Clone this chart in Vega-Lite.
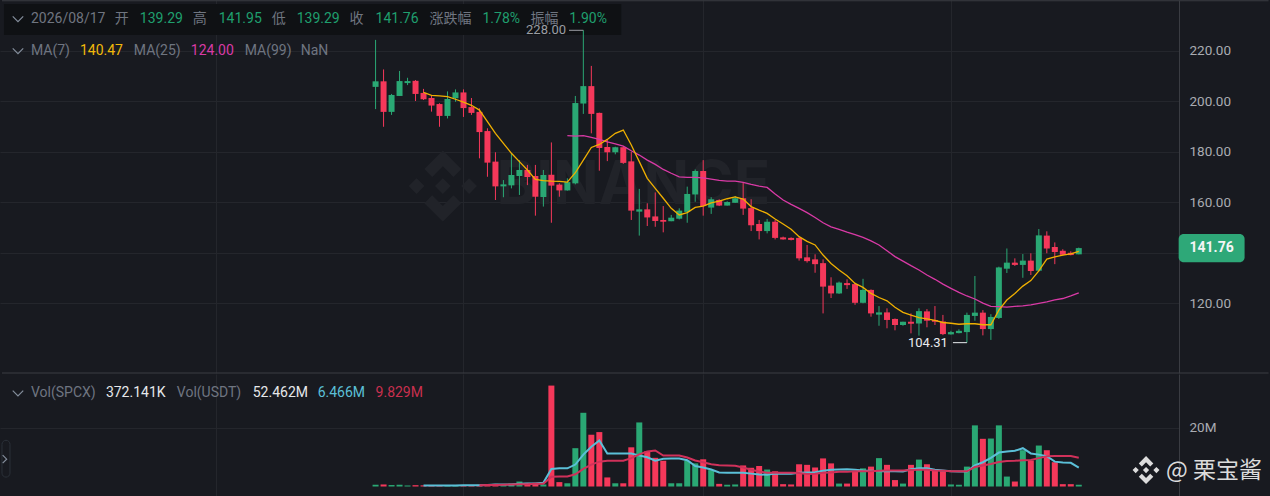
{
  "$schema": "https://vega.github.io/schema/vega-lite/v6.json",
  "background": "#181a20",
  "padding": 0,
  "spacing": 0,
  "config": {"view": {"stroke": null}, "text": {"font": "Roboto, Noto Sans CJK SC"}},
  "datasets": {
    "candles": [
      {"date":"2026-05-21","open":205.6,"high":224.2,"low":196.8,"close":207.8,"dir":"up","vol":0.6,"ma7":null,"ma25":null,"vma7":null,"vma25":null},
      {"date":"2026-05-22","open":207.8,"high":212.5,"low":189.8,"close":195.7,"dir":"down","vol":0.7,"ma7":null,"ma25":null,"vma7":null,"vma25":null},
      {"date":"2026-05-23","open":195.7,"high":202.8,"low":194.5,"close":202.4,"dir":"up","vol":0.5,"ma7":null,"ma25":null,"vma7":null,"vma25":null},
      {"date":"2026-05-24","open":202,"high":211.9,"low":202,"close":207.9,"dir":"up","vol":0.6,"ma7":null,"ma25":null,"vma7":null,"vma25":null},
      {"date":"2026-05-25","open":207.1,"high":209.2,"low":206.3,"close":207.9,"dir":"up","vol":0.35,"ma7":null,"ma25":null,"vma7":null,"vma25":null},
      {"date":"2026-05-26","open":208,"high":208.3,"low":200,"close":202.8,"dir":"down","vol":0.45,"ma7":null,"ma25":null,"vma7":null,"vma25":null},
      {"date":"2026-05-27","open":203.2,"high":204.8,"low":200.4,"close":200.7,"dir":"down","vol":0.4,"ma7":203.4,"ma25":null,"vma7":0.35,"vma25":null},
      {"date":"2026-05-28","open":201.2,"high":202,"low":195.8,"close":198.2,"dir":"down","vol":0.3,"ma7":202.2,"ma25":null,"vma7":0.35,"vma25":null},
      {"date":"2026-05-29","open":198.8,"high":199.1,"low":189.8,"close":194.1,"dir":"down","vol":0.3,"ma7":202,"ma25":null,"vma7":0.35,"vma25":null},
      {"date":"2026-05-30","open":194.1,"high":203.8,"low":193.1,"close":200.8,"dir":"up","vol":0.3,"ma7":201.7,"ma25":null,"vma7":0.35,"vma25":null},
      {"date":"2026-05-31","open":201.1,"high":204.6,"low":199.7,"close":203.4,"dir":"up","vol":0.3,"ma7":200.7,"ma25":null,"vma7":0.35,"vma25":null},
      {"date":"2026-06-01","open":203.4,"high":204.6,"low":193.7,"close":197.2,"dir":"down","vol":0.3,"ma7":199.6,"ma25":null,"vma7":0.4,"vma25":null},
      {"date":"2026-06-02","open":197.6,"high":201.2,"low":194.5,"close":195.3,"dir":"down","vol":0.3,"ma7":198.3,"ma25":null,"vma7":0.4,"vma25":null},
      {"date":"2026-06-03","open":195.7,"high":197.1,"low":177.3,"close":187.7,"dir":"down","vol":0.6,"ma7":196.4,"ma25":null,"vma7":0.45,"vma25":0.45},
      {"date":"2026-06-04","open":188.1,"high":189.2,"low":170,"close":175.6,"dir":"down","vol":0.8,"ma7":191.8,"ma25":null,"vma7":0.55,"vma25":0.5},
      {"date":"2026-06-05","open":176,"high":179.7,"low":160.8,"close":166.2,"dir":"down","vol":0.9,"ma7":187.2,"ma25":null,"vma7":0.65,"vma25":0.55},
      {"date":"2026-06-06","open":166.2,"high":168.7,"low":161.9,"close":167,"dir":"up","vol":0.5,"ma7":183.2,"ma25":null,"vma7":0.65,"vma25":0.6},
      {"date":"2026-06-07","open":166.6,"high":179.3,"low":165.4,"close":170.7,"dir":"up","vol":1,"ma7":179.3,"ma25":null,"vma7":0.7,"vma25":0.7},
      {"date":"2026-06-08","open":170.3,"high":176.6,"low":162.8,"close":172.7,"dir":"up","vol":1.7,"ma7":176,"ma25":null,"vma7":0.9,"vma25":0.8},
      {"date":"2026-06-09","open":172.7,"high":174.7,"low":166.7,"close":169.9,"dir":"down","vol":1.25,"ma7":172.7,"ma25":null,"vma7":1,"vma25":0.8},
      {"date":"2026-06-10","open":170.3,"high":174.7,"low":154.6,"close":162.1,"dir":"down","vol":1.25,"ma7":169,"ma25":null,"vma7":1,"vma25":0.9},
      {"date":"2026-06-11","open":162,"high":172.7,"low":158.2,"close":170.7,"dir":"up","vol":0.7,"ma7":168.5,"ma25":null,"vma7":1.25,"vma25":0.9},
      {"date":"2026-06-12","open":170.8,"high":183.6,"low":151.8,"close":166.5,"dir":"down","vol":34.5,"ma7":168.3,"ma25":null,"vma7":6,"vma25":3.3},
      {"date":"2026-06-13","open":166.9,"high":167.4,"low":162.1,"close":164.6,"dir":"down","vol":1.5,"ma7":168.2,"ma25":null,"vma7":6.2,"vma25":3.4},
      {"date":"2026-06-14","open":164.6,"high":169.4,"low":164.5,"close":167.9,"dir":"up","vol":1.1,"ma7":167.9,"ma25":186.3,"vma7":6.2,"vma25":3.4},
      {"date":"2026-06-15","open":167.4,"high":202,"low":167,"close":199.2,"dir":"up","vol":13.1,"ma7":171.6,"ma25":186.1,"vma7":7.5,"vma25":4.2},
      {"date":"2026-06-16","open":199,"high":228,"low":194.9,"close":205.9,"dir":"up","vol":25.2,"ma7":176.6,"ma25":186.3,"vma7":10.9,"vma25":6},
      {"date":"2026-06-17","open":205.9,"high":213.9,"low":187.2,"close":194.9,"dir":"down","vol":17.7,"ma7":181.6,"ma25":185.6,"vma7":13.6,"vma25":7.5},
      {"date":"2026-06-18","open":195.3,"high":195.4,"low":172.4,"close":181.4,"dir":"down","vol":18.6,"ma7":182.8,"ma25":184.8,"vma7":15.7,"vma25":8.5},
      {"date":"2026-06-19","open":181.8,"high":184.6,"low":176.2,"close":179.7,"dir":"down","vol":3.1,"ma7":184.8,"ma25":183.8,"vma7":11.3,"vma25":8.8},
      {"date":"2026-06-20","open":179.7,"high":181.9,"low":178.9,"close":181.7,"dir":"up","vol":1.1,"ma7":187.2,"ma25":183,"vma7":11.3,"vma25":8.8},
      {"date":"2026-06-21","open":181.7,"high":181.9,"low":175.1,"close":175.5,"dir":"down","vol":1.1,"ma7":188.5,"ma25":182.1,"vma7":11.3,"vma25":8.8},
      {"date":"2026-06-22","open":176.1,"high":179.9,"low":152.9,"close":156.6,"dir":"down","vol":13.4,"ma7":182.6,"ma25":180.3,"vma7":11.3,"vma25":9.7},
      {"date":"2026-06-23","open":156.2,"high":165.2,"low":146.7,"close":157.1,"dir":"up","vol":21.9,"ma7":176,"ma25":178.6,"vma7":10.6,"vma25":11},
      {"date":"2026-06-24","open":157.1,"high":159.5,"low":150.5,"close":153.9,"dir":"down","vol":12.1,"ma7":169.4,"ma25":176.6,"vma7":10,"vma25":12},
      {"date":"2026-06-25","open":154.3,"high":163.8,"low":150.2,"close":152.5,"dir":"down","vol":9.8,"ma7":165.4,"ma25":174.9,"vma7":8.8,"vma25":12.3},
      {"date":"2026-06-26","open":152.9,"high":158.4,"low":148,"close":152.2,"dir":"down","vol":8.8,"ma7":161.5,"ma25":172.9,"vma7":9.5,"vma25":10.6},
      {"date":"2026-06-27","open":152.4,"high":154.9,"low":152.4,"close":153.8,"dir":"up","vol":1.1,"ma7":157.5,"ma25":171.4,"vma7":9.6,"vma25":10.6},
      {"date":"2026-06-28","open":153.4,"high":157.5,"low":153.1,"close":156.6,"dir":"up","vol":1.1,"ma7":154.9,"ma25":170,"vma7":9.6,"vma25":10.6},
      {"date":"2026-06-29","open":156.1,"high":166.1,"low":151.8,"close":163.2,"dir":"up","vol":8.8,"ma7":155.8,"ma25":169.8,"vma7":9,"vma25":9.9},
      {"date":"2026-06-30","open":163,"high":172.9,"low":160.1,"close":172.3,"dir":"up","vol":7.9,"ma7":157.9,"ma25":169.8,"vma7":7,"vma25":8.9},
      {"date":"2026-07-01","open":172.3,"high":176.6,"low":154.6,"close":158.4,"dir":"down","vol":9.3,"ma7":158.4,"ma25":169.6,"vma7":6.5,"vma25":8.3},
      {"date":"2026-07-02","open":157.8,"high":161.9,"low":155.3,"close":161.1,"dir":"up","vol":5.6,"ma7":159.7,"ma25":169.1,"vma7":5.8,"vma25":7.6},
      {"date":"2026-07-03","open":160.8,"high":161.1,"low":158.4,"close":158.6,"dir":"down","vol":0.9,"ma7":160.4,"ma25":168.6,"vma7":4.8,"vma25":7.3},
      {"date":"2026-07-04","open":158.6,"high":160.3,"low":158.6,"close":160,"dir":"up","vol":0.6,"ma7":161.3,"ma25":168.3,"vma7":4.7,"vma25":7.2},
      {"date":"2026-07-05","open":159.7,"high":162.4,"low":159.7,"close":161.5,"dir":"up","vol":0.7,"ma7":162,"ma25":168.3,"vma7":4.7,"vma25":7.1},
      {"date":"2026-07-06","open":161.5,"high":167.7,"low":154.9,"close":157.4,"dir":"down","vol":7.2,"ma7":161.2,"ma25":167.8,"vma7":4.7,"vma25":6.5},
      {"date":"2026-07-07","open":157.6,"high":161.1,"low":148.5,"close":150.8,"dir":"down","vol":6.4,"ma7":158.2,"ma25":167,"vma7":4.4,"vma25":5.7},
      {"date":"2026-07-08","open":151.3,"high":152.9,"low":145.2,"close":148.5,"dir":"down","vol":7,"ma7":156.8,"ma25":166.3,"vma7":4.1,"vma25":5.1},
      {"date":"2026-07-09","open":148.5,"high":153.3,"low":147.6,"close":152.2,"dir":"up","vol":5.8,"ma7":155.5,"ma25":165.8,"vma7":4,"vma25":4.7},
      {"date":"2026-07-10","open":152.2,"high":152.9,"low":145.2,"close":145.8,"dir":"down","vol":5.2,"ma7":153.3,"ma25":163.2,"vma7":4.4,"vma25":4.7},
      {"date":"2026-07-11","open":146,"high":146.3,"low":145.1,"close":145.2,"dir":"down","vol":0.8,"ma7":151.3,"ma25":160.8,"vma7":4.4,"vma25":4.7},
      {"date":"2026-07-12","open":145.8,"high":146,"low":144.8,"close":145,"dir":"down","vol":0.7,"ma7":149.2,"ma25":159.1,"vma7":4.4,"vma25":4.7},
      {"date":"2026-07-13","open":145.8,"high":146,"low":136.8,"close":137.7,"dir":"down","vol":7.6,"ma7":146.3,"ma25":157.5,"vma7":4.7,"vma25":4.6},
      {"date":"2026-07-14","open":138.1,"high":143,"low":136,"close":136.6,"dir":"down","vol":7.4,"ma7":144.4,"ma25":155.8,"vma7":4.8,"vma25":4.3},
      {"date":"2026-07-15","open":137.3,"high":139.3,"low":132,"close":135.4,"dir":"down","vol":6.5,"ma7":143,"ma25":153.9,"vma7":4.9,"vma25":4.4},
      {"date":"2026-07-16","open":135.8,"high":137.3,"low":115.9,"close":126.5,"dir":"down","vol":9.6,"ma7":139,"ma25":151.8,"vma7":5.4,"vma25":4.7},
      {"date":"2026-07-17","open":126.9,"high":130.2,"low":122,"close":123.8,"dir":"down","vol":7.9,"ma7":135.7,"ma25":150.2,"vma7":5.7,"vma25":4.8},
      {"date":"2026-07-18","open":123.8,"high":128.5,"low":123.6,"close":128.1,"dir":"up","vol":1,"ma7":133.1,"ma25":149.2,"vma7":5.8,"vma25":5},
      {"date":"2026-07-19","open":127.9,"high":129.4,"low":125.6,"close":127.1,"dir":"down","vol":1,"ma7":130.8,"ma25":148.1,"vma7":5.9,"vma25":5},
      {"date":"2026-07-20","open":127.5,"high":128,"low":119.3,"close":120.1,"dir":"down","vol":5.2,"ma7":127.8,"ma25":147.1,"vma7":5.7,"vma25":5.2},
      {"date":"2026-07-21","open":120.1,"high":129.6,"low":119.9,"close":125.2,"dir":"up","vol":6.2,"ma7":126.2,"ma25":146,"vma7":5.5,"vma25":5.2},
      {"date":"2026-07-22","open":125.2,"high":125.4,"low":114.6,"close":115.9,"dir":"down","vol":6.8,"ma7":123.8,"ma25":144.6,"vma7":5.4,"vma25":5.2},
      {"date":"2026-07-23","open":115.4,"high":118.8,"low":111,"close":116.3,"dir":"up","vol":9.7,"ma7":122.2,"ma25":143,"vma7":5.2,"vma25":5.4},
      {"date":"2026-07-24","open":116.3,"high":117.9,"low":110,"close":113.3,"dir":"down","vol":7.4,"ma7":120.9,"ma25":140.7,"vma7":5.2,"vma25":5.5},
      {"date":"2026-07-25","open":113.7,"high":113.9,"low":109.2,"close":111.3,"dir":"down","vol":2.2,"ma7":118.3,"ma25":138.4,"vma7":5.2,"vma25":5.5},
      {"date":"2026-07-26","open":111.3,"high":112.6,"low":111,"close":112.6,"dir":"up","vol":1,"ma7":116.3,"ma25":136.6,"vma7":5.1,"vma25":5.5},
      {"date":"2026-07-27","open":112.6,"high":115.9,"low":108,"close":111.8,"dir":"down","vol":7.4,"ma7":115.2,"ma25":134.8,"vma7":5.9,"vma25":5.6},
      {"date":"2026-07-28","open":111.9,"high":117.9,"low":107.1,"close":116.8,"dir":"up","vol":9.2,"ma7":114.2,"ma25":133.1,"vma7":6.2,"vma25":5.7},
      {"date":"2026-07-29","open":116.7,"high":117.6,"low":110.4,"close":113,"dir":"down","vol":7.6,"ma7":113.7,"ma25":131.1,"vma7":6.2,"vma25":5.7},
      {"date":"2026-07-30","open":113.3,"high":118.8,"low":111.3,"close":112.6,"dir":"down","vol":5.7,"ma7":113.1,"ma25":129.4,"vma7":5.7,"vma25":5.5},
      {"date":"2026-07-31","open":112.7,"high":115.3,"low":107.3,"close":107.7,"dir":"down","vol":5.2,"ma7":112.3,"ma25":127.5,"vma7":5.5,"vma25":5.4},
      {"date":"2026-08-01","open":107.6,"high":109,"low":107.5,"close":108.5,"dir":"up","vol":0.7,"ma7":112,"ma25":125.8,"vma7":5.2,"vma25":5.2},
      {"date":"2026-08-02","open":108.1,"high":109.6,"low":108,"close":109,"dir":"up","vol":0.6,"ma7":111.6,"ma25":124.2,"vma7":5.1,"vma25":5.2},
      {"date":"2026-08-03","open":108.5,"high":116.2,"low":104.31,"close":115.3,"dir":"up","vol":6.8,"ma7":111.8,"ma25":122.8,"vma7":5.1,"vma25":5.2},
      {"date":"2026-08-04","open":114.9,"high":130.7,"low":113,"close":116.2,"dir":"up","vol":20.9,"ma7":111.8,"ma25":121.6,"vma7":7.2,"vma25":6.7},
      {"date":"2026-08-05","open":116.2,"high":117.2,"low":107.2,"close":109.7,"dir":"down","vol":16.3,"ma7":111.4,"ma25":120,"vma7":8.3,"vma25":7.2},
      {"date":"2026-08-06","open":109.7,"high":115.6,"low":105.4,"close":114.5,"dir":"up","vol":16.4,"ma7":111.4,"ma25":118.7,"vma7":9.8,"vma25":7.7},
      {"date":"2026-08-07","open":114.1,"high":134.4,"low":113.7,"close":134.1,"dir":"up","vol":20.9,"ma7":117.2,"ma25":118.6,"vma7":11.6,"vma25":8.4},
      {"date":"2026-08-08","open":133.6,"high":141.6,"low":131.9,"close":136,"dir":"up","vol":3.4,"ma7":121.2,"ma25":118.4,"vma7":12,"vma25":8.7},
      {"date":"2026-08-09","open":136,"high":137.7,"low":134.7,"close":135.1,"dir":"down","vol":1.7,"ma7":123.8,"ma25":118.7,"vma7":12.2,"vma25":8.8},
      {"date":"2026-08-10","open":135.1,"high":139.4,"low":130,"close":136.8,"dir":"up","vol":12.4,"ma7":126.7,"ma25":118.9,"vma7":13.1,"vma25":9},
      {"date":"2026-08-11","open":136.8,"high":139.7,"low":131.1,"close":132.7,"dir":"down","vol":8.9,"ma7":128.9,"ma25":119.3,"vma7":11.3,"vma25":9.1},
      {"date":"2026-08-12","open":132.8,"high":149.3,"low":132.5,"close":146.8,"dir":"up","vol":14,"ma7":132.7,"ma25":119.9,"vma7":10.9,"vma25":9.7},
      {"date":"2026-08-13","open":146.7,"high":148.4,"low":139.7,"close":141.6,"dir":"down","vol":12.4,"ma7":137.4,"ma25":120.5,"vma7":10.4,"vma25":10.3},
      {"date":"2026-08-14","open":142.2,"high":144,"low":135.4,"close":140.2,"dir":"down","vol":8.3,"ma7":138.3,"ma25":121.3,"vma7":8.5,"vma25":10.4},
      {"date":"2026-08-15","open":140.7,"high":141.3,"low":138.9,"close":139.1,"dir":"down","vol":0.8,"ma7":139,"ma25":121.8,"vma7":8.2,"vma25":10.4},
      {"date":"2026-08-16","open":139.9,"high":140.5,"low":138.9,"close":139,"dir":"down","vol":0.8,"ma7":139.5,"ma25":122.8,"vma7":8.1,"vma25":10.4},
      {"date":"2026-08-17","open":139.29,"high":141.95,"low":139.29,"close":141.76,"dir":"up","vol":0.6,"ma7":140.47,"ma25":124,"vma7":6.466,"vma25":9.829}
    ],
    "priceLabels": [
      {"date":"2026-04-07T21:00:00Z","price":232.5,"text":"2026/08/17","role":"label"},
      {"date":"2026-04-18T09:00:00Z","price":232.5,"text":"开","role":"label"},
      {"date":"2026-04-21T12:00:00Z","price":232.5,"text":"139.29","role":"up"},
      {"date":"2026-04-28T03:00:00Z","price":232.5,"text":"高","role":"label"},
      {"date":"2026-05-01T09:00:00Z","price":232.5,"text":"141.95","role":"up"},
      {"date":"2026-05-08T00:00:00Z","price":232.5,"text":"低","role":"label"},
      {"date":"2026-05-11T03:00:00Z","price":232.5,"text":"139.29","role":"up"},
      {"date":"2026-05-17T18:00:00Z","price":232.5,"text":"收","role":"label"},
      {"date":"2026-05-21T00:00:00Z","price":232.5,"text":"141.76","role":"up"},
      {"date":"2026-05-27T18:00:00Z","price":232.5,"text":"涨跌幅","role":"label"},
      {"date":"2026-06-03T09:00:00Z","price":232.5,"text":"1.78%","role":"up"},
      {"date":"2026-06-09T09:00:00Z","price":232.5,"text":"振幅","role":"label"},
      {"date":"2026-06-14T06:00:00Z","price":232.5,"text":"1.90%","role":"up"},
      {"date":"2026-04-07T21:00:00Z","price":219.8,"text":"MA(7)","role":"label"},
      {"date":"2026-04-14T00:00:00Z","price":219.8,"text":"140.47","role":"ma7"},
      {"date":"2026-04-20T18:00:00Z","price":219.8,"text":"MA(25)","role":"label"},
      {"date":"2026-04-27T21:00:00Z","price":219.8,"text":"124.00","role":"ma25"},
      {"date":"2026-05-04T15:00:00Z","price":219.8,"text":"MA(99)","role":"label"},
      {"date":"2026-05-11T15:00:00Z","price":219.8,"text":"NaN","role":"label"}
    ],
    "volLabels": [
      {"date":"2026-04-07T21:00:00Z","vol":31.9,"text":"Vol(SPCX)","role":"label"},
      {"date":"2026-04-17T06:00:00Z","vol":31.9,"text":"372.141K","role":"strong"},
      {"date":"2026-04-26T03:00:00Z","vol":31.9,"text":"Vol(USDT)","role":"label"},
      {"date":"2026-05-05T15:00:00Z","vol":31.9,"text":"52.462M","role":"strong"},
      {"date":"2026-05-13T18:00:00Z","vol":31.9,"text":"6.466M","role":"vma7"},
      {"date":"2026-05-21T00:00:00Z","vol":31.9,"text":"9.829M","role":"vma25"}
    ]
  },
  "vconcat": [
    {
      "width": 1179,
      "height": 373,
      "resolve": {"scale": {"color": "independent"}},
      "encoding": {
        "x": {
          "field": "date",
          "type": "temporal",
          "scale": {"type": "utc", "padding": 0, "domain": ["2026-04-04T00:00:00Z", "2026-08-29T13:00:00Z"]},
          "axis": {"title": null, "labels": false, "ticks": false, "domain": false, "grid": true, "gridColor": "#24262c", "tickCount": {"interval": "month", "step": 1}}
        }
      },
      "layer": [
        {
          "data": {"values": [{"date": "2026-04-04T12:00:00Z", "date2": "2026-06-20T18:00:00Z", "top": 238.4, "bottom": 226.1}]},
          "mark": {"type": "rect", "color": "#0f1114"},
          "encoding": {
            "x2": {"field": "date2"},
            "y": {"field": "top", "type": "quantitative", "scale": {"domain": [92.3, 240], "nice": false, "zero": false},
              "axis": {"title": null, "orient": "right", "values": [120, 140, 160, 180, 200, 220], "labelExpr": "datum.value == 140 ? '' : format(datum.value, '.2f')", "grid": true, "gridColor": "#24262c", "ticks": false, "domain": true, "domainColor": "#3a3c42", "labelColor": "#a9acb2", "labelFont": "Roboto", "labelFontSize": 13.5, "labelPadding": 10, "minExtent": 91, "maxExtent": 91}},
            "y2": {"field": "bottom"}
          }
        },
        {
          "data": {"values": [{"date": "2026-05-29T10:00:00Z", "price": 166.3}]},
          "mark": {"type": "point", "filled": true, "opacity": 1, "color": "#212329", "size": 5041, "shape": "M0,-1L.52,-.48L.3,-.26L0,-.56L-.3,-.26L-.52,-.48ZM0,1L.52,.48L.3,.26L0,.56L-.3,.26L-.52,.48ZM-.74,-.22L-.52,0L-.74,.22L-.96,0ZM.74,-.22L.96,0L.74,.22L.52,0ZM0,-.22L.22,0L0,.22L-.22,0Z"},
          "encoding": {"y": {"field": "price", "type": "quantitative", "scale": {"domain": [92.3, 240], "nice": false, "zero": false}}}
        },
        {
          "data": {"values": [{"date": "2026-06-05T03:00:00Z", "price": 166.3, "text": "BINANCE"}]},
          "mark": {"type": "text", "align": "left", "baseline": "middle", "font": "Inter", "fontWeight": "bold", "fontSize": 60, "color": "#212329"},
          "encoding": {"y": {"field": "price", "type": "quantitative", "scale": {"domain": [92.3, 240], "nice": false, "zero": false}}, "text": {"field": "text"}}
        },
        {
          "data": {"name": "candles"},
          "mark": {"type": "rule", "strokeWidth": 1},
          "encoding": {
            "y": {"field": "low", "type": "quantitative", "scale": {"domain": [92.3, 240], "nice": false, "zero": false}},
            "y2": {"field": "high"},
            "color": {"field": "dir", "type": "nominal", "scale": {"domain": ["up", "down"], "range": ["#2aa874", "#f5385a"]}, "legend": null}
          }
        },
        {
          "data": {"name": "candles"},
          "mark": {"type": "bar", "size": 6},
          "encoding": {
            "y": {"field": "open", "type": "quantitative", "scale": {"domain": [92.3, 240], "nice": false, "zero": false}},
            "y2": {"field": "close"},
            "color": {"field": "dir", "type": "nominal", "scale": {"domain": ["up", "down"], "range": ["#2aa874", "#f5385a"]}, "legend": null}
          }
        },
        {
          "data": {"name": "candles"},
          "mark": {"type": "line", "color": "#d93aa6", "strokeWidth": 1.3},
          "encoding": {"y": {"field": "ma25", "type": "quantitative", "scale": {"domain": [92.3, 240], "nice": false, "zero": false}}}
        },
        {
          "data": {"name": "candles"},
          "mark": {"type": "line", "color": "#f0b000", "strokeWidth": 1.3},
          "encoding": {"y": {"field": "ma7", "type": "quantitative", "scale": {"domain": [92.3, 240], "nice": false, "zero": false}}}
        },
        {
          "data": {"name": "priceLabels"},
          "mark": {"type": "text", "align": "left", "baseline": "middle", "fontSize": 14},
          "encoding": {
            "y": {"field": "price", "type": "quantitative", "scale": {"domain": [92.3, 240], "nice": false, "zero": false}},
            "text": {"field": "text"},
            "color": {"field": "role", "type": "nominal", "scale": {"domain": ["label", "up", "ma7", "ma25"], "range": ["#6f7580", "#1f9f6e", "#f0b90b", "#d93aa6"]}, "legend": null}
          }
        },
        {
          "data": {"values": [{"date": "2026-04-06T06:00:00Z", "price": 232.5}, {"date": "2026-04-06T06:00:00Z", "price": 219.8}]},
          "mark": {"type": "point", "filled": false, "opacity": 1, "stroke": "#848e9c", "strokeWidth": 1.2, "size": 110, "shape": "M-1,-.5L0,.5L1,-.5"},
          "encoding": {"y": {"field": "price", "type": "quantitative", "scale": {"domain": [92.3, 240], "nice": false, "zero": false}}}
        },
        {
          "data": {"values": [{"date": "2026-06-13T20:00:00Z", "price": 228, "text": "228.00"}]},
          "mark": {"type": "text", "align": "right", "baseline": "middle", "fontSize": 13, "color": "#9a9da3"},
          "encoding": {"y": {"field": "price", "type": "quantitative", "scale": {"domain": [92.3, 240], "nice": false, "zero": false}}, "text": {"field": "text"}}
        },
        {
          "data": {"values": [{"date": "2026-07-31T15:00:00Z", "price": 104.31, "text": "104.31"}]},
          "mark": {"type": "text", "align": "right", "baseline": "middle", "fontSize": 13, "color": "#eaecef"},
          "encoding": {"y": {"field": "price", "type": "quantitative", "scale": {"domain": [92.3, 240], "nice": false, "zero": false}}, "text": {"field": "text"}}
        },
        {
          "data": {"values": [{"date": "2026-06-14T05:00:00Z", "date2": "2026-06-16T00:00:00Z", "price": 228}]},
          "mark": {"type": "rule", "color": "#9a9da3"},
          "encoding": {"x2": {"field": "date2"}, "y": {"field": "price", "type": "quantitative", "scale": {"domain": [92.3, 240], "nice": false, "zero": false}}}
        },
        {
          "data": {"values": [{"date": "2026-08-01T06:00:00Z", "date2": "2026-08-03T00:00:00Z", "price": 104.31}]},
          "mark": {"type": "rule", "color": "#eaecef"},
          "encoding": {"x2": {"field": "date2"}, "y": {"field": "price", "type": "quantitative", "scale": {"domain": [92.3, 240], "nice": false, "zero": false}}}
        },
        {
          "data": {"values": [{"date": "2026-04-04T06:00:00Z", "date2": "2026-09-09T18:00:00Z", "price": 92.3}, {"date": "2026-04-04T06:00:00Z", "date2": "2026-09-09T18:00:00Z", "price": 239.7}]},
          "mark": {"type": "rule", "color": "#3a3c42"},
          "encoding": {"x2": {"field": "date2"}, "y": {"field": "price", "type": "quantitative", "scale": {"domain": [92.3, 240], "nice": false, "zero": false}}}
        },
        {
          "data": {"values": [{"date": "2026-08-29T12:00:00Z", "date2": "2026-09-06T18:00:00Z", "top": 147.3, "bottom": 136.2}]},
          "mark": {"type": "bar", "color": "#2ea878", "cornerRadius": 5},
          "encoding": {"x2": {"field": "date2"}, "y": {"field": "top", "type": "quantitative", "scale": {"domain": [92.3, 240], "nice": false, "zero": false}}, "y2": {"field": "bottom"}}
        },
        {
          "data": {"values": [{"date": "2026-09-02T15:00:00Z", "price": 141.8, "text": "141.76"}]},
          "mark": {"type": "text", "align": "center", "baseline": "middle", "fontSize": 14, "fontWeight": "bold", "color": "#f5f5f5"},
          "encoding": {"y": {"field": "price", "type": "quantitative", "scale": {"domain": [92.3, 240], "nice": false, "zero": false}}, "text": {"field": "text"}}
        }
      ]
    },
    {
      "width": 1179,
      "height": 123,
      "resolve": {"scale": {"color": "independent"}},
      "encoding": {
        "x": {
          "field": "date",
          "type": "temporal",
          "scale": {"type": "utc", "padding": 0, "domain": ["2026-04-04T00:00:00Z", "2026-08-29T13:00:00Z"]},
          "axis": {"title": null, "labels": false, "ticks": false, "domain": false, "grid": true, "gridColor": "#24262c", "tickCount": {"interval": "month", "step": 1}}
        }
      },
      "layer": [
        {
          "data": {"name": "candles"},
          "mark": {"type": "bar", "size": 6},
          "encoding": {
            "y": {"field": "vol", "type": "quantitative", "scale": {"domain": [-3.59, 38.46], "nice": false, "zero": false},
              "axis": {"title": null, "orient": "right", "values": [20], "labelExpr": "datum.value + 'M'", "grid": true, "gridColor": "#24262c", "ticks": false, "domain": true, "domainColor": "#3a3c42", "labelColor": "#a9acb2", "labelFont": "Roboto", "labelFontSize": 13.5, "labelPadding": 10, "minExtent": 91, "maxExtent": 91}},
            "y2": {"datum": 0},
            "color": {"field": "dir", "type": "nominal", "scale": {"domain": ["up", "down"], "range": ["#2aa874", "#f5385a"]}, "legend": null}
          }
        },
        {
          "data": {"name": "candles"},
          "mark": {"type": "line", "color": "#5bc0d8", "strokeWidth": 2},
          "encoding": {"y": {"field": "vma7", "type": "quantitative", "scale": {"domain": [-3.59, 38.46], "nice": false, "zero": false}}}
        },
        {
          "data": {"name": "candles"},
          "mark": {"type": "line", "color": "#d0315a", "strokeWidth": 2},
          "encoding": {"y": {"field": "vma25", "type": "quantitative", "scale": {"domain": [-3.59, 38.46], "nice": false, "zero": false}}}
        },
        {
          "data": {"name": "volLabels"},
          "mark": {"type": "text", "align": "left", "baseline": "middle", "fontSize": 14},
          "encoding": {
            "y": {"field": "vol", "type": "quantitative", "scale": {"domain": [-3.59, 38.46], "nice": false, "zero": false}},
            "text": {"field": "text"},
            "color": {"field": "role", "type": "nominal", "scale": {"domain": ["label", "strong", "vma7", "vma25"], "range": ["#6f7580", "#e6e8ea", "#5bc0d8", "#c9304f"]}, "legend": null}
          }
        },
        {
          "data": {"values": [{"date": "2026-04-06T06:00:00Z", "vol": 31.9}]},
          "mark": {"type": "point", "filled": false, "opacity": 1, "stroke": "#848e9c", "strokeWidth": 1.2, "size": 110, "shape": "M-1,-.5L0,.5L1,-.5"},
          "encoding": {"y": {"field": "vol", "type": "quantitative", "scale": {"domain": [-3.59, 38.46], "nice": false, "zero": false}}}
        },
        {
          "data": {"values": [{"date": "2026-04-04T06:00:00Z", "date2": "2026-04-05T06:00:00Z", "top": 15.8, "bottom": 3.2}]},
          "mark": {"type": "bar", "fill": "#181a20", "stroke": "#2b3139", "cornerRadius": 4},
          "encoding": {"x2": {"field": "date2"}, "y": {"field": "top", "type": "quantitative", "scale": {"domain": [-3.59, 38.46], "nice": false, "zero": false}}, "y2": {"field": "bottom"}}
        },
        {
          "data": {"values": [{"date": "2026-04-04T14:00:00Z", "vol": 9.35}]},
          "mark": {"type": "point", "filled": false, "opacity": 1, "stroke": "#848e9c", "strokeWidth": 1.2, "size": 64, "shape": "M-.5,-1L.5,0L-.5,1"},
          "encoding": {"y": {"field": "vol", "type": "quantitative", "scale": {"domain": [-3.59, 38.46], "nice": false, "zero": false}}}
        },
        {
          "data": {"values": [{"date": "2026-08-25T10:00:00Z", "vol": 5.6}]},
          "mark": {"type": "point", "filled": true, "opacity": 1, "color": "#dcdcdc", "size": 784, "shape": "M0,-1L.52,-.48L.3,-.26L0,-.56L-.3,-.26L-.52,-.48ZM0,1L.52,.48L.3,.26L0,.56L-.3,.26L-.52,.48ZM-.74,-.22L-.52,0L-.74,.22L-.96,0ZM.74,-.22L.96,0L.74,.22L.52,0ZM0,-.22L.22,0L0,.22L-.22,0Z"},
          "encoding": {"y": {"field": "vol", "type": "quantitative", "scale": {"domain": [-3.59, 38.46], "nice": false, "zero": false}}}
        },
        {
          "data": {"values": [{"date": "2026-08-27T22:00:00Z", "vol": 5.2, "text": "@ 栗宝酱"}]},
          "mark": {"type": "text", "align": "left", "baseline": "middle", "font": "Noto Sans CJK SC", "fontSize": 23, "color": "#dcdcdc"},
          "encoding": {"y": {"field": "vol", "type": "quantitative", "scale": {"domain": [-3.59, 38.46], "nice": false, "zero": false}}, "text": {"field": "text"}}
        }
      ]
    }
  ]
}
